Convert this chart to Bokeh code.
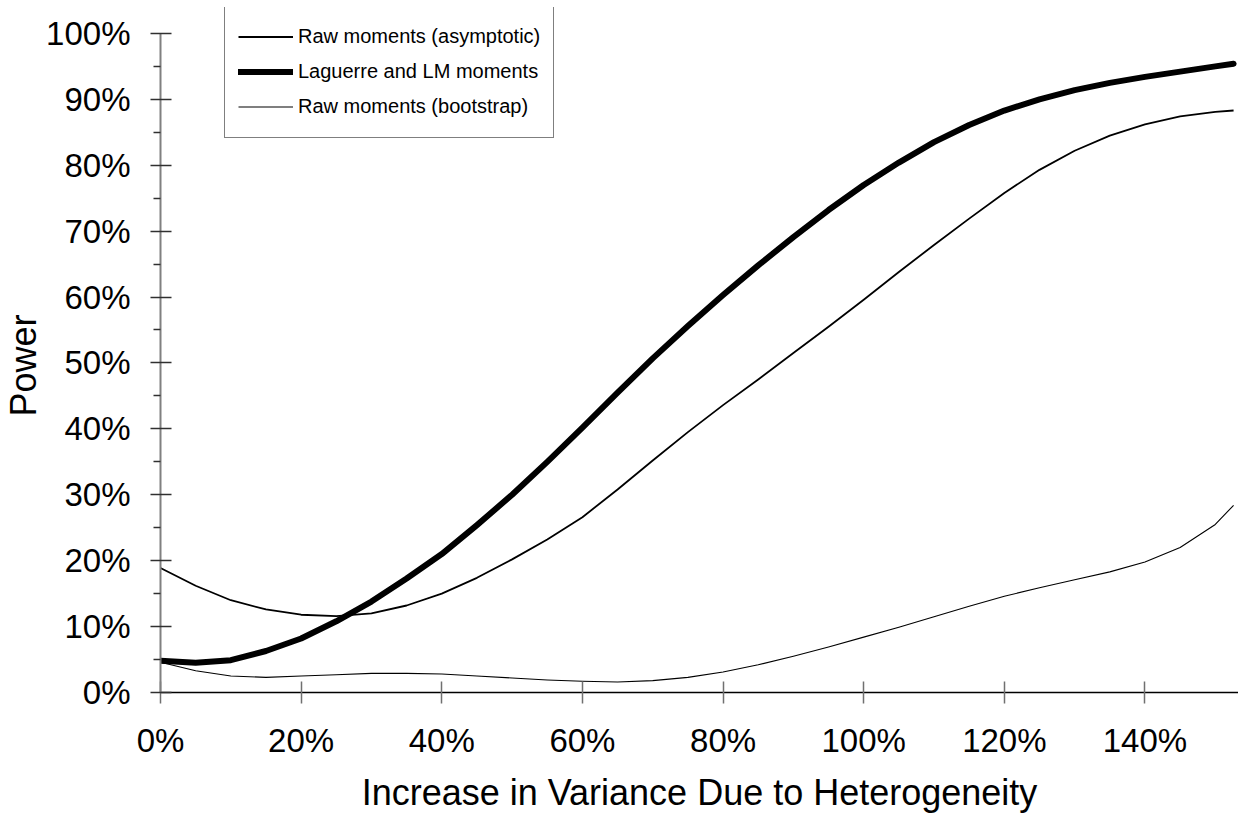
from bokeh.plotting import figure
from bokeh.models import (Range1d, FixedTicker, PrintfTickFormatter, Legend,
                          LegendItem, Title, ColumnDataSource)
from bokeh.embed import file_html
from bokeh.resources import INLINE

# ---- data ----
increase = [0, 5, 10, 15, 20, 25, 30, 35, 40, 45, 50, 55, 60, 65, 70, 75, 80,
            85, 90, 95, 100, 105, 110, 115, 120, 125, 130, 135, 140, 145, 150, 152.6]
raw_asymptotic = [18.9, 16.2, 14.0, 12.6, 11.8, 11.6, 12.0, 13.2, 15.0, 17.4, 20.2,
                  23.2, 26.6, 30.8, 35.2, 39.5, 43.6, 47.5, 51.5, 55.5, 59.6, 63.8,
                  67.9, 71.9, 75.8, 79.3, 82.2, 84.5, 86.2, 87.4, 88.1, 88.3]
laguerre_lm = [4.8, 4.5, 4.9, 6.3, 8.2, 10.8, 13.8, 17.3, 21.0, 25.4, 30.0, 35.0,
               40.2, 45.5, 50.7, 55.6, 60.3, 64.8, 69.1, 73.2, 77.0, 80.4, 83.5,
               86.1, 88.3, 90.0, 91.4, 92.5, 93.4, 94.2, 95.0, 95.4]
raw_bootstrap = [4.6, 3.3, 2.5, 2.3, 2.5, 2.7, 2.9, 2.9, 2.8, 2.5, 2.2, 1.9, 1.7,
                 1.6, 1.8, 2.3, 3.1, 4.2, 5.5, 6.9, 8.4, 9.9, 11.5, 13.1, 14.6,
                 15.9, 17.1, 18.3, 19.8, 22.0, 25.5, 28.4]
series_names = ["Raw moments (asymptotic)", "Laguerre and LM moments",
                "Raw moments (bootstrap)"]
x_ticks = [0, 20, 40, 60, 80, 100, 120, 140]
y_ticks = [0, 10, 20, 30, 40, 50, 60, 70, 80, 90, 100]
y_minor = [5, 15, 25, 35, 45, 55, 65, 75, 85, 95]

FONT = "Liberation Sans"

src = ColumnDataSource(dict(x=increase, a=raw_asymptotic, l=laguerre_lm, b=raw_bootstrap))

p = figure(width=1238, height=815, output_backend="svg", toolbar_location=None,
           x_range=Range1d(0, 153.3), y_range=Range1d(0, 103.93),
           min_border_left=159, min_border_right=0, min_border_top=7,
           min_border_bottom=121)
p.outline_line_color = None
p.background_fill_color = "white"
p.border_fill_color = "white"
p.xgrid.visible = False
p.ygrid.visible = False

r1 = p.line("x", "a", source=src, line_color="black", line_width=1.8, line_join="round")
r2 = p.line("x", "l", source=src, line_color="black", line_width=6, line_join="round",
            line_cap="round")
r3 = p.line("x", "b", source=src, line_color="black", line_width=1.1, line_join="round")

# x axis
xa = p.xaxis[0]
xa.ticker = FixedTicker(ticks=x_ticks, minor_ticks=[])
xa.formatter = PrintfTickFormatter(format="%d%%")
xa.axis_line_color = "black"
xa.axis_line_width = 1.5
xa.major_tick_line_color = "#707070"
xa.major_tick_line_width = 1.5
xa.major_tick_in = 11
xa.major_tick_out = 11
xa.minor_tick_line_color = None
xa.major_label_text_font = FONT
xa.major_label_text_font_size = "33px"
xa.major_label_text_color = "black"
xa.major_label_standoff = 18
xa.axis_label = "Increase in Variance Due to Heterogeneity"
xa.axis_label_text_font = FONT
xa.axis_label_text_font_size = "36px"
xa.axis_label_text_font_style = "normal"
xa.axis_label_text_color = "black"
xa.axis_label_standoff = 10

# y axis
ya = p.yaxis[0]
ya.bounds = (0, 100)
ya.ticker = FixedTicker(ticks=y_ticks, minor_ticks=y_minor)
ya.formatter = PrintfTickFormatter(format="%d%%")
ya.axis_line_color = "#808080"
ya.axis_line_width = 2
ya.major_tick_line_color = "#303030"
ya.major_tick_line_width = 1.3
ya.major_tick_in = 11
ya.major_tick_out = 10
ya.minor_tick_line_color = "#303030"
ya.minor_tick_line_width = 1.3
ya.minor_tick_in = 0
ya.minor_tick_out = 7
ya.major_label_text_font = FONT
ya.major_label_text_font_size = "33px"
ya.major_label_text_color = "black"
ya.major_label_standoff = 20

# y title: a side title, centred on the 0-100% span of the axis
p.add_layout(Title(text="Power", align="left", offset=276, text_font=FONT,
                   text_font_size="36px", text_font_style="normal",
                   text_color="black", standoff=0), "left")

legend = Legend(items=[LegendItem(label=series_names[0], renderers=[r1]),
                       LegendItem(label=series_names[1], renderers=[r2]),
                       LegendItem(label=series_names[2], renderers=[r3])],
                location=(64, 554), orientation="vertical",
                border_line_color="black", border_line_width=1.2,
                background_fill_color="white", background_fill_alpha=1,
                label_text_font=FONT, label_text_font_size="20px",
                label_text_color="black", label_height=35, glyph_height=35,
                glyph_width=55, label_standoff=5, spacing=0, padding=13, margin=0)
p.add_layout(legend, "center")

open("out.html", "w").write(file_html(p, INLINE))
